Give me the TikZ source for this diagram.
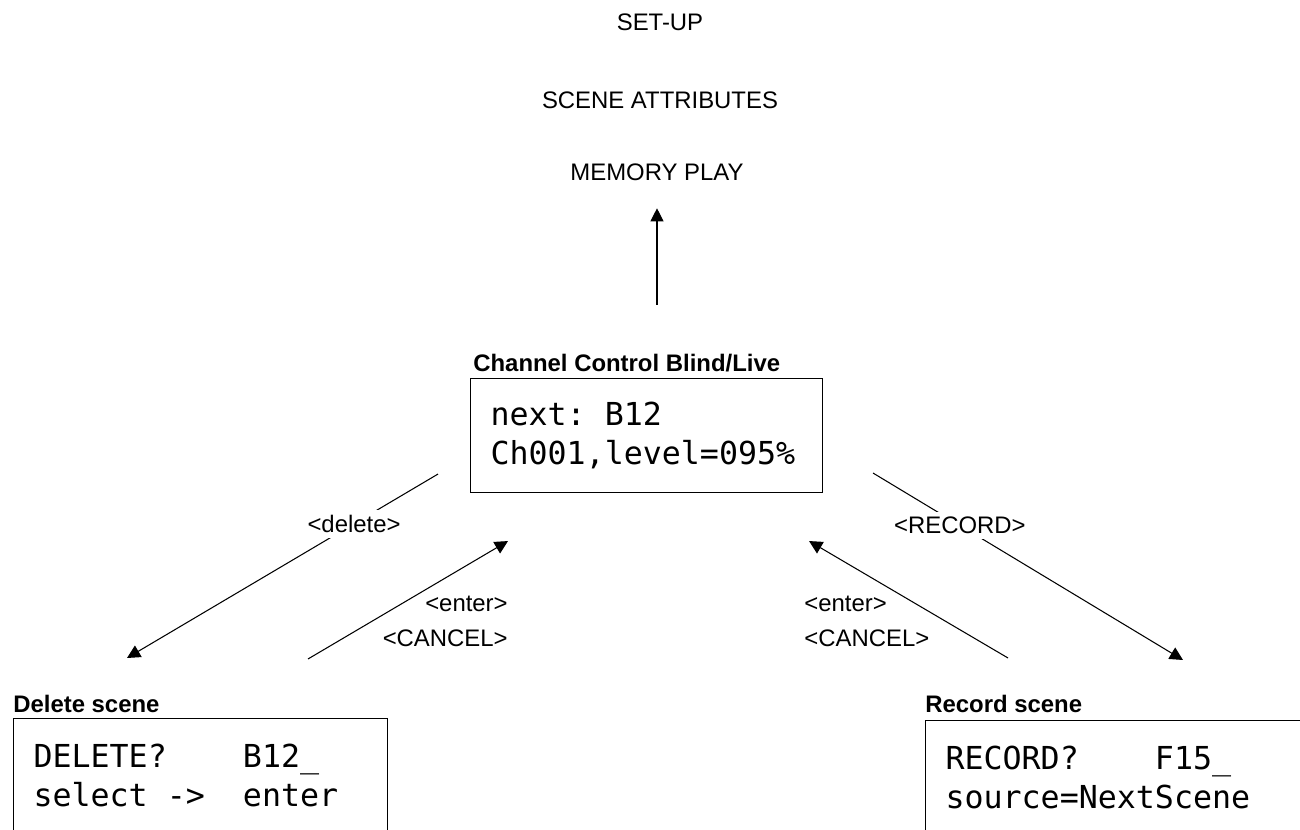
\documentclass[tikz,border=0pt]{standalone}
\usepackage{fontspec}
\setmainfont{Liberation Sans}
\newfontfamily\lcdfont{DejaVu Sans Mono}
\newcommand\lcdgap{\hphantom{0}}
\usepackage{tikz}
\usetikzlibrary{arrows.meta, positioning, calc}
\tikzset{
  lcdbox/.style={rectangle, draw=black, line width=0.6pt, anchor=north west,
    align=left, minimum height=2.28cm, inner xsep=0.4cm, inner ysep=0pt,
    font=\lcdfont\fontsize{18}{22.2}\selectfont},
  scrtitle/.style={anchor=base west, inner sep=0pt,
    font=\bfseries\fontsize{13.6}{16}\selectfont},
  menuitem/.style={inner sep=0pt, font=\fontsize{13.6}{16}\selectfont},
  keylabel/.style={inner sep=3pt, fill=white, font=\fontsize{13.6}{16}\selectfont},
  keynote/.style={inner sep=0pt, font=\fontsize{13.6}{20}\selectfont},
  arrow/.style={-{Triangle[length=7.5pt, width=7.5pt]}, line width=0.6pt, color=black}
}

\begin{document}
\begin{tikzpicture}
  \path[use as bounding box, clip] (0,0) rectangle (26,16.6);

  % menu above
  \node[menuitem] (setup) at (13.2,16.16) {SET-UP};
  \node[menuitem] (attrs) at (13.2,14.6) {SCENE ATTRIBUTES};
  \node[menuitem] (mem) at (13.14,13.16) {MEMORY PLAY};

  % LCD screens
  \node[lcdbox, text width=6.24cm] (cc) at (9.4,9.04)
    {next:\lcdgap B12\\Ch001,level=095\%};
  \node[scrtitle] (cctitle) at ([xshift=0.06cm, yshift=0.12cm]cc.north west) {Channel Control Blind/Live};
  \node[lcdbox, text width=6.68cm] (del) at (0.26,2.24)
    {DELETE?\lcdgap\lcdgap\lcdgap\lcdgap B12\_\\select\lcdgap->\lcdgap\lcdgap enter};
  \node[scrtitle] (deltitle) at ([yshift=0.1cm]del.north west) {Delete scene};
  \node[lcdbox, text width=6.8cm] (rec) at (18.5,2.2)
    {RECORD?\lcdgap\lcdgap\lcdgap\lcdgap F15\_\\source=NextScene};
  \node[scrtitle] (rectitle) at ([yshift=0.14cm]rec.north west) {Record scene};

  % up to the menu
  \coordinate (upfrom) at ([yshift=1.46cm]cc.north -| mem.south);
  \draw[arrow, shorten >=0.55cm] (upfrom) -- (mem.south);

  % delete
  \coordinate (delfrom) at ([xshift=-0.64cm, yshift=0.38cm]cc.south west);
  \coordinate (delto) at ([xshift=2.28cm, yshift=1.2cm]del.north west);
  \draw[arrow] (delfrom) -- (delto) node[keylabel, pos=0.27] (delkey) {<delete>};
  \coordinate (delback) at ([xshift=5.9cm, yshift=1.18cm]del.north west);
  \coordinate (ccin) at ([xshift=0.76cm, yshift=-0.96cm]cc.south west);
  \draw[arrow] (delback) -- (ccin);
  \node[keynote, align=right, anchor=east] (delret) at ([yshift=-1.61cm]ccin) {<enter>\\<CANCEL>};

  % record
  \coordinate (recfrom) at ([xshift=1.0cm, yshift=0.4cm]cc.south east);
  \coordinate (recto) at ([xshift=5.16cm, yshift=1.2cm]rec.north west);
  \draw[arrow] (recfrom) -- (recto) node[keylabel, pos=0.28] (reckey) {<RECORD>};
  \coordinate (recback) at ([xshift=1.66cm, yshift=1.24cm]rec.north west);
  \coordinate (ccin2) at ([xshift=-0.28cm, yshift=-0.96cm]cc.south east);
  \draw[arrow] (recback) -- (ccin2);
  \node[keynote, align=left, anchor=west] (recret) at ([xshift=-0.1cm, yshift=-1.61cm]ccin2) {<enter>\\<CANCEL>};
\end{tikzpicture}
\end{document}
